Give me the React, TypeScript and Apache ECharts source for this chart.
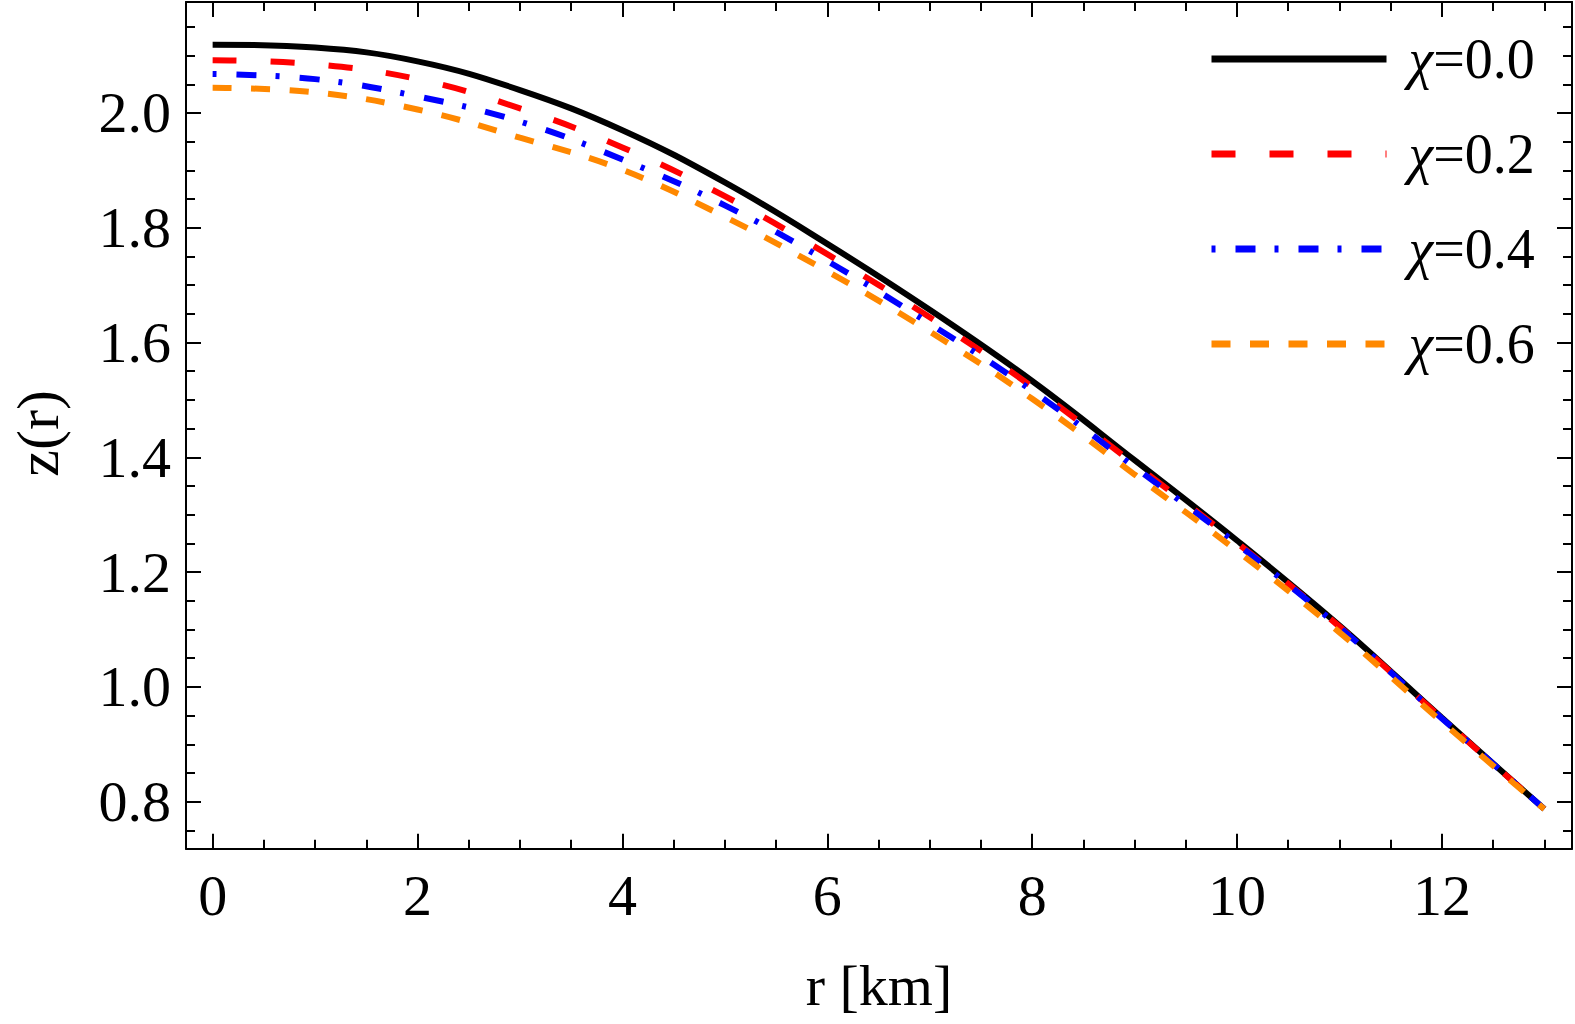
import { useEffect, useRef } from "react";
import * as echarts from "echarts";

// radial coordinate r [km]
const rValues = [0, 1, 2, 3, 4, 5, 6, 7, 8, 9, 10, 11, 12, 13];

// z(r) for each chi
const zChi00 = [2.119, 2.114, 2.090, 2.040, 1.970, 1.879, 1.772, 1.657, 1.533, 1.395, 1.255, 1.107, 0.946, 0.787];
const zChi02 = [2.092, 2.085, 2.059, 2.008, 1.940, 1.855, 1.754, 1.644, 1.523, 1.388, 1.251, 1.105, 0.945, 0.787];
const zChi04 = [2.068, 2.059, 2.029, 1.985, 1.919, 1.839, 1.742, 1.633, 1.516, 1.383, 1.249, 1.104, 0.945, 0.787];
const zChi06 = [2.044, 2.036, 2.006, 1.957, 1.901, 1.819, 1.724, 1.619, 1.502, 1.370, 1.237, 1.095, 0.939, 0.787];

const seriesNames = ["χ=0.0", "χ=0.2", "χ=0.4", "χ=0.6"];

const xMajorTicks = [0, 2, 4, 6, 8, 10, 12];
const xMinorTicks = [0.5, 1, 1.5, 2.5, 3, 3.5, 4.5, 5, 5.5, 6.5, 7, 7.5, 8.5, 9, 9.5, 10.5, 11, 11.5, 12.5, 13];
const yMajorTicks = [0.8, 1.0, 1.2, 1.4, 1.6, 1.8, 2.0];
const yMinorTicks = [0.75, 0.85, 0.9, 0.95, 1.05, 1.1, 1.15, 1.25, 1.3, 1.35, 1.45, 1.5, 1.55, 1.65, 1.7, 1.75, 1.85, 1.9, 1.95, 2.05, 2.1, 2.15];

const X_MIN = -0.26;
const X_MAX = 13.27;
const Y_MIN = 0.718;
const Y_MAX = 2.1934;

const FONT = "'Liberation Serif', 'DejaVu Serif', serif";

export default function App() {
  const ref = useRef<HTMLDivElement>(null);

  useEffect(() => {
    if (!ref.current) return;
    const chart = echarts.init(ref.current, undefined, { renderer: "svg" });

    const frameLine = { show: true, onZero: false, lineStyle: { color: "#000", width: 2 } };
    const noLine = { show: false, onZero: false };

    const xAxisBase = {
      type: "value" as const,
      min: X_MIN,
      max: X_MAX,
      splitLine: { show: false },
    };
    const yAxisBase = {
      type: "value" as const,
      min: Y_MIN,
      max: Y_MAX,
      splitLine: { show: false },
    };

    const majorTick = (vals: number[]) => ({
      show: true, inside: true, length: 15, customValues: vals,
      lineStyle: { color: "#000", width: 2 },
    });
    const minorTick = (vals: number[]) => ({
      show: true, inside: true, length: 9, customValues: vals,
      lineStyle: { color: "#000", width: 2 },
    });

    const toPairs = (z: number[]) => rValues.map((r, i) => [r, z[i]]);

    chart.setOption({
      animation: false,
      backgroundColor: "#fff",
      grid: { left: 184, right: 3, top: 2, bottom: 175.3 },
      legend: {
        left: 1208,
        top: 31,
        orient: "vertical",
        padding: 0,
        itemWidth: 175,
        itemHeight: 14,
        itemGap: 39,
        selectedMode: false,
        data: seriesNames,
        itemStyle: { color: "transparent", borderColor: "transparent", borderWidth: 0, opacity: 0 },
        lineStyle: { width: 7, cap: "butt" },
        formatter: (name: string) => `{g|${name.slice(0, 1)}}{n|${name.slice(1)}}`,
        textStyle: {
          rich: {
            g: { fontFamily: FONT, fontStyle: "italic", fontSize: 56, lineHeight: 60, color: "#000", padding: [0, 0, 0, 17] },
            n: { fontFamily: FONT, fontSize: 56, lineHeight: 60, color: "#000" },
          },
        },
      },
      xAxis: [
        {
          ...xAxisBase,
          position: "bottom",
          axisLine: frameLine,
          axisTick: majorTick(xMajorTicks),
          axisLabel: {
            show: true, customValues: xMajorTicks, margin: 18,
            fontFamily: FONT, fontSize: 58, color: "#000",
          },
          name: "r [km]",
          nameLocation: "middle",
          nameGap: 108,
          nameTextStyle: { fontFamily: FONT, fontSize: 58, color: "#000" },
        },
        { ...xAxisBase, position: "bottom", axisLine: noLine, axisTick: minorTick(xMinorTicks), axisLabel: { show: false } },
        { ...xAxisBase, position: "top", axisLine: frameLine, axisTick: majorTick(xMajorTicks), axisLabel: { show: false } },
        { ...xAxisBase, position: "top", axisLine: noLine, axisTick: minorTick(xMinorTicks), axisLabel: { show: false } },
      ],
      yAxis: [
        {
          ...yAxisBase,
          position: "left",
          axisLine: frameLine,
          axisTick: majorTick(yMajorTicks),
          axisLabel: {
            show: true, customValues: yMajorTicks, margin: 15,
            fontFamily: FONT, fontSize: 58, color: "#000",
            formatter: (v: number) => v.toFixed(1),
          },
          name: "z(r)",
          nameLocation: "middle",
          nameGap: 118,
          nameTextStyle: { fontFamily: FONT, fontSize: 60, color: "#000", padding: [0, 16, 0, 0] },
        },
        { ...yAxisBase, position: "left", axisLine: noLine, axisTick: minorTick(yMinorTicks), axisLabel: { show: false } },
        { ...yAxisBase, position: "right", axisLine: frameLine, axisTick: majorTick(yMajorTicks), axisLabel: { show: false } },
        { ...yAxisBase, position: "right", axisLine: noLine, axisTick: minorTick(yMinorTicks), axisLabel: { show: false } },
      ],
      series: [
        {
          name: seriesNames[0], type: "line", data: toPairs(zChi00), smooth: 0.4,
          symbol: "none", showSymbol: false,
          itemStyle: { color: "#000" },
          lineStyle: { color: "#000", width: 6, type: "solid" },
        },
        {
          name: seriesNames[1], type: "line", data: toPairs(zChi02), smooth: 0.4,
          symbol: "none", showSymbol: false,
          itemStyle: { color: "#ff0000" },
          lineStyle: { color: "#ff0000", width: 6, type: [24, 34], cap: "butt" },
        },
        {
          name: seriesNames[2], type: "line", data: toPairs(zChi04), smooth: 0.4,
          symbol: "none", showSymbol: false,
          itemStyle: { color: "#0000ff" },
          lineStyle: { color: "#0000ff", width: 6, type: [4, 20, 20, 19], cap: "butt" },
        },
        {
          name: seriesNames[3], type: "line", data: toPairs(zChi06), smooth: 0.4,
          symbol: "none", showSymbol: false,
          itemStyle: { color: "#ff8800" },
          lineStyle: { color: "#ff8800", width: 6, type: [19, 19.5], cap: "butt" },
        },
      ],
    });

    return () => chart.dispose();
  }, []);

  return (
    <div
      ref={ref}
      style={{ position: "fixed", left: 0, top: 0, width: 1575, height: 1024, background: "#fff" }}
    />
  );
}
